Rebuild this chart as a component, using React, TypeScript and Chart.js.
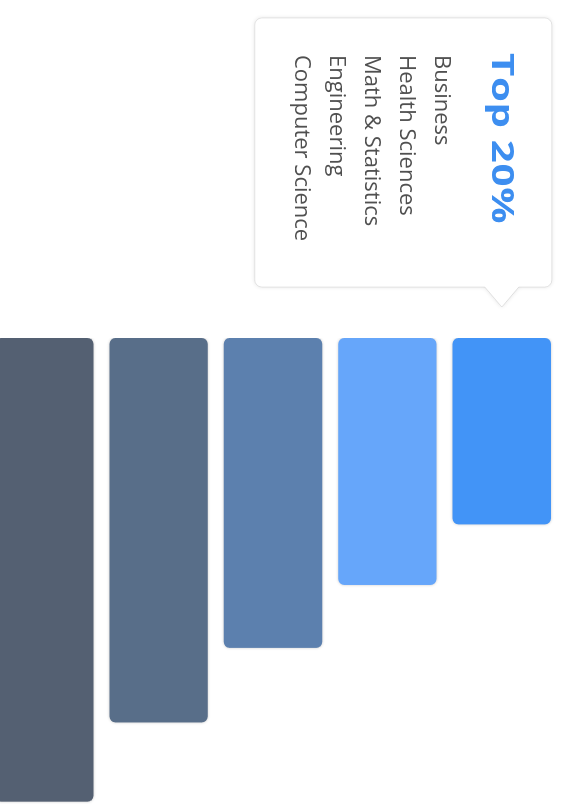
import React, { useEffect, useRef } from "react";
import { Chart, registerables } from "chart.js";

Chart.register(...registerables);

// ---- data ----
const categories = ["Top 20%", "Top 40%", "Top 60%", "Top 80%", "Top 100%"];
const values = [40, 53, 66.5, 82.5, 99.5];
const barColors = ["#4294f7", "#66a6fa", "#5c80ae", "#586e89", "#546072"];
const tooltipIndex = 0;
const tooltipTitle = "Top 20%";
const tooltipLines = ["Business", "Health Sciences", "Math & Statistics", "Engineering", "Computer Science"];
const axisMin = 0;
const axisMax = 100;

// ---- chart (drawn in landscape, page shows it turned a quarter clockwise) ----
const CANVAS_W = 804;
const CANVAS_H = 576;

const barShadow = {
  id: "barShadow",
  beforeDatasetsDraw(chart: any) {
    const ctx = chart.ctx;
    ctx.save();
    ctx.shadowColor = "rgba(0,0,0,0.22)";
    ctx.shadowBlur = 3;
  },
  afterDatasetsDraw(chart: any) {
    chart.ctx.restore();
  },
};

const calloutPlugin = {
  id: "callout",
  afterDraw(chart: any) {
    const ctx = chart.ctx as CanvasRenderingContext2D;
    const bar = chart.getDatasetMeta(0).data[tooltipIndex] as any;
    if (!bar) return;
    const tipX = bar.base - 31;
    const tipY = bar.y;
    const caretLen = 20;
    const caretHalf = 17;
    const right = tipX - caretLen;
    const width = 269;
    const left = right - width;
    const top = tipY - 50;
    const bottom = top + 297;
    const r = 7;

    ctx.save();
    ctx.beginPath();
    ctx.moveTo(left + r, top);
    ctx.lineTo(right - r, top);
    ctx.arcTo(right, top, right, top + r, r);
    ctx.lineTo(right, tipY - caretHalf);
    ctx.lineTo(tipX, tipY);
    ctx.lineTo(right, tipY + caretHalf);
    ctx.lineTo(right, bottom - r);
    ctx.arcTo(right, bottom, right - r, bottom, r);
    ctx.lineTo(left + r, bottom);
    ctx.arcTo(left, bottom, left, bottom - r, r);
    ctx.lineTo(left, top + r);
    ctx.arcTo(left, top, left + r, top, r);
    ctx.closePath();
    ctx.shadowColor = "rgba(0,0,0,0.12)";
    ctx.shadowBlur = 4;
    ctx.fillStyle = "#ffffff";
    ctx.fill();
    ctx.shadowColor = "transparent";
    ctx.shadowBlur = 0;
    ctx.lineWidth = 1;
    ctx.strokeStyle = "rgba(0,0,0,0.09)";
    ctx.stroke();

    const textX = left + 35;
    ctx.textBaseline = "alphabetic";
    ctx.textAlign = "left";

    // title: wide bold face
    ctx.save();
    ctx.translate(textX, top + 60);
    ctx.scale(1.3, 1);
    ctx.fillStyle = "#3d8ef0";
    ctx.font = "bold 31px 'Open Sans'";
    (ctx as any).letterSpacing = "0.5px";
    ctx.fillText(tooltipTitle, 0, 0);
    ctx.restore();

    ctx.fillStyle = "#505050";
    ctx.font = "22px 'Open Sans'";
    tooltipLines.forEach((line, i) => {
      ctx.fillText(line, textX + 2, top + 117 + i * 35);
    });
    ctx.restore();
  },
};

export default function App() {
  const canvasRef = useRef<HTMLCanvasElement | null>(null);

  useEffect(() => {
    const canvas = canvasRef.current;
    if (!canvas) return;
    const chart = new Chart(canvas, {
      type: "bar",
      data: {
        labels: categories,
        datasets: [
          {
            data: values,
            backgroundColor: barColors,
            borderRadius: 6,
            borderSkipped: false,
            barPercentage: 0.86,
            categoryPercentage: 1,
          },
        ],
      },
      options: {
        indexAxis: "y",
        responsive: false,
        animation: false,
        devicePixelRatio: 1,
        layout: { padding: { left: 338, right: 0, top: 2, bottom: 2 } },
        scales: {
          x: { display: false, min: axisMin, max: axisMax },
          y: { display: false },
        },
        plugins: {
          legend: { display: false },
          tooltip: { enabled: false },
        },
        events: [],
      },
      plugins: [barShadow, calloutPlugin],
    });
    return () => chart.destroy();
  }, []);

  return (
    <div
      style={{
        position: "fixed",
        left: 0,
        top: 0,
        width: 561,
        height: 804,
        overflow: "hidden",
        background: "#ffffff",
      }}
    >
      <div
        style={{
          position: "absolute",
          left: 0,
          top: 0,
          width: CANVAS_W,
          height: CANVAS_H,
          transformOrigin: "0 0",
          transform: "translate(561px, 0) rotate(90deg)",
        }}
      >
        <canvas
          ref={canvasRef}
          width={CANVAS_W}
          height={CANVAS_H}
          style={{ width: CANVAS_W, height: CANVAS_H, display: "block" }}
        />
      </div>
    </div>
  );
}
